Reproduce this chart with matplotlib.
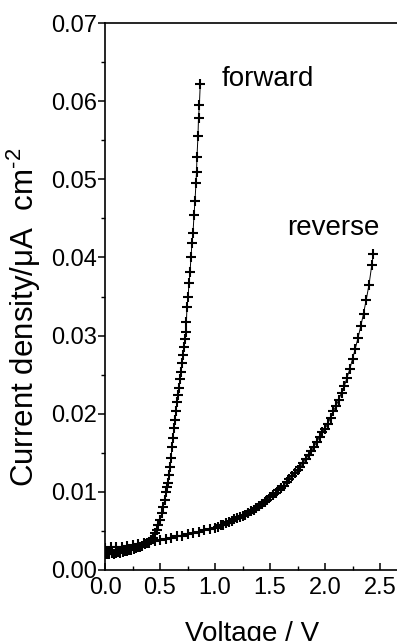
import matplotlib
matplotlib.use("Agg")
import matplotlib.pyplot as plt
from matplotlib.ticker import MultipleLocator, FormatStrFormatter

plt.rcParams['font.family'] = ['Liberation Sans', 'DejaVu Sans']
plt.rcParams['mathtext.fontset'] = 'custom'
plt.rcParams['mathtext.rm'] = 'Liberation Sans'
plt.rcParams['mathtext.it'] = 'Liberation Sans:italic'

# forward bias sweep: voltage (V) and current density (uA cm^-2)
fwd_v = [0.00, 0.02, 0.04, 0.06, 0.08, 0.10, 0.12, 0.14, 0.16, 0.18,
         0.20, 0.22, 0.24, 0.26, 0.28, 0.30, 0.32, 0.34, 0.36, 0.38,
         0.40, 0.42, 0.436, 0.455, 0.473, 0.482, 0.50, 0.518, 0.527, 0.545,
         0.555, 0.564, 0.573, 0.582, 0.59, 0.60, 0.609, 0.618, 0.627, 0.636,
         0.645, 0.655, 0.664, 0.673, 0.682, 0.69, 0.70, 0.709, 0.718, 0.727,
         0.736, 0.740, 0.745, 0.755, 0.764, 0.773, 0.782, 0.791, 0.80, 0.809,
         0.818, 0.827, 0.832, 0.836, 0.845, 0.850, 0.858, 0.866]
fwd_j = [0.0021, 0.0020, 0.0021, 0.0022, 0.0021, 0.0022, 0.0023, 0.0022, 0.0023, 0.0024,
         0.0024, 0.0025, 0.0026, 0.0027, 0.0028, 0.0029, 0.0030, 0.0031, 0.0033, 0.0034,
         0.0036, 0.0039, 0.0041, 0.0047, 0.0051, 0.0058, 0.0064, 0.0073, 0.0081, 0.0090,
         0.0100, 0.0106, 0.0111, 0.0122, 0.0132, 0.0143, 0.0158, 0.0169, 0.0182, 0.0192,
         0.0203, 0.0215, 0.0224, 0.0233, 0.0244, 0.0254, 0.0265, 0.0275, 0.0285, 0.0295,
         0.0304, 0.0317, 0.0336, 0.0350, 0.0367, 0.0381, 0.0401, 0.0419, 0.0431, 0.0454,
         0.0472, 0.0495, 0.0509, 0.0528, 0.0555, 0.0578, 0.0595, 0.0622]

# reverse bias sweep
rev_v = [0.00, 0.05, 0.10, 0.15, 0.20, 0.25, 0.30, 0.35, 0.40, 0.45,
         0.50, 0.55, 0.60, 0.65, 0.70, 0.75, 0.80, 0.85, 0.90, 0.95,
         1.000, 1.025, 1.050, 1.075, 1.100, 1.125, 1.150, 1.175, 1.200, 1.225,
         1.250, 1.275, 1.300, 1.325, 1.350, 1.375, 1.400, 1.425, 1.450, 1.475,
         1.500, 1.525, 1.550, 1.575, 1.600, 1.625, 1.650, 1.675, 1.700, 1.725,
         1.750, 1.775, 1.800, 1.825, 1.850, 1.875, 1.900, 1.925, 1.950, 1.975,
         2.000, 2.025, 2.050, 2.075, 2.100, 2.125, 2.150, 2.175, 2.200, 2.225,
         2.250, 2.275, 2.300, 2.325, 2.350, 2.375, 2.400, 2.425, 2.440]
rev_j = [0.0028, 0.0029, 0.0029, 0.0030, 0.0031, 0.0032, 0.0033, 0.0034, 0.0035, 0.0037,
         0.0038, 0.0040, 0.0041, 0.0043, 0.0044, 0.0046, 0.0047, 0.0049, 0.0051, 0.0052,
         0.0054, 0.0055, 0.0057, 0.0058, 0.0060, 0.0061, 0.0063, 0.0065, 0.0066, 0.0068,
         0.0069, 0.0071, 0.0073, 0.0075, 0.0077, 0.0079, 0.0082, 0.0084, 0.0087, 0.0090,
         0.0093, 0.0096, 0.0099, 0.0102, 0.0105, 0.0108, 0.0112, 0.0116, 0.0120, 0.0124,
         0.0128, 0.0132, 0.0137, 0.0142, 0.0147, 0.0152, 0.0158, 0.0164, 0.0170, 0.0176,
         0.0181, 0.0187, 0.0195, 0.0203, 0.0210, 0.0218, 0.0227, 0.0235, 0.0246, 0.0257,
         0.0270, 0.0283, 0.0297, 0.0312, 0.0328, 0.0346, 0.0365, 0.0390, 0.0404]

fig = plt.figure(figsize=(3.97, 6.41), dpi=100)
ax = fig.add_axes([105 / 397, 71 / 641, 297 / 397, 547 / 641])

for v, j in [(fwd_v, fwd_j), (rev_v, rev_j)]:
    ax.plot(v, j, color='black', linewidth=0.7)
    ax.plot(v, j, linestyle='none', marker='+', markersize=7.5,
            markeredgewidth=1.5, color='black')

ax.text(1.06, 0.0628, 'forward', fontsize=20, ha='left', va='center')
ax.text(2.08, 0.0438, 'reverse', fontsize=20, ha='center', va='center')

ax.set_xlim(0, 2.7)
ax.set_ylim(0, 0.07)
ax.xaxis.set_major_locator(MultipleLocator(0.5))
ax.xaxis.set_minor_locator(MultipleLocator(0.25))
ax.yaxis.set_major_locator(MultipleLocator(0.01))
ax.yaxis.set_minor_locator(MultipleLocator(0.005))
ax.xaxis.set_major_formatter(FormatStrFormatter('%.1f'))
ax.yaxis.set_major_formatter(FormatStrFormatter('%.2f'))

ax.tick_params(axis='x', which='major', direction='in', length=5, width=1.1,
               labelsize=17, pad=5)
ax.tick_params(axis='x', which='minor', direction='in', length=3, width=1.0)
ax.tick_params(axis='y', which='major', direction='out', length=5, width=1.1,
               labelsize=17, pad=0.5)
ax.tick_params(axis='y', which='minor', direction='out', length=3, width=1.0)
for s in ax.spines.values():
    s.set_linewidth(1.2)

ax.set_xlabel('Voltage / V', fontsize=20)
ax.set_ylabel('Current density/\u03bcA  cm$^{\\text{-}2}$', fontsize=22.5)
ax.xaxis.set_label_coords(0.495, -0.094)
ax.yaxis.set_label_coords(-0.21, 0.461)

fig.savefig('out.png', dpi=100)
